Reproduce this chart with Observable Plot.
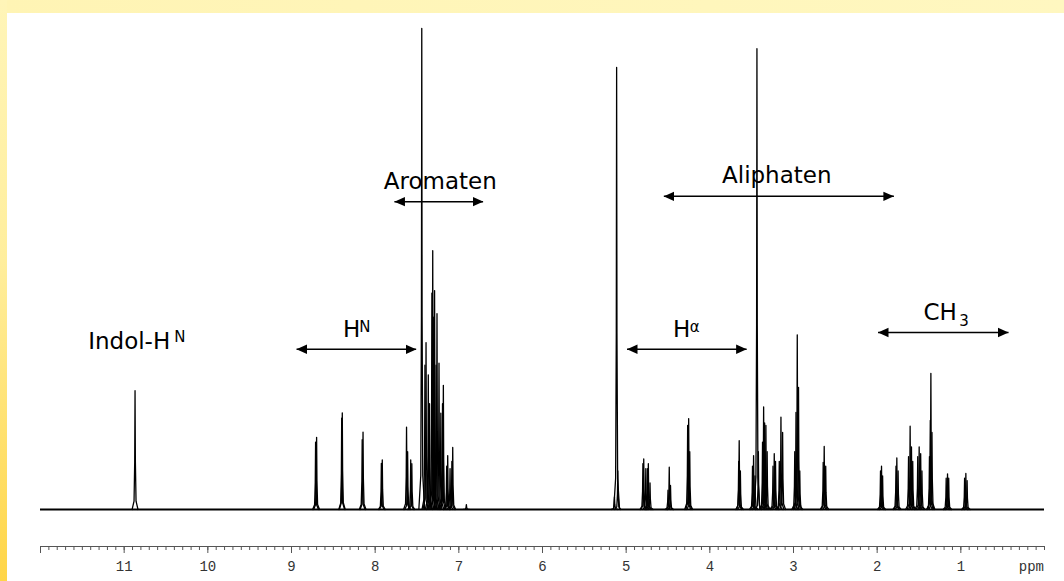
<!DOCTYPE html>
<html>
<head>
<meta charset="utf-8">
<script src="https://cdn.jsdelivr.net/npm/d3@7"></script>
<script src="https://cdn.jsdelivr.net/npm/@observablehq/plot@0.6"></script>
<style>
  html, body { margin: 0; padding: 0; }
  body { width: 1064px; height: 581px; overflow: hidden; position: relative; background: #fff; }
  #frameTop { position: absolute; left: 0; top: 0; width: 1064px; height: 13px;
    background: linear-gradient(to right, #FFF4B4, #FFF7C0); }
  #frameLeft { position: absolute; left: 0; top: 0; width: 7px; height: 581px;
    background: linear-gradient(to bottom, #FFF5B8 0%, #FFEE9C 45%, #FFD547 100%); }
  #chart { position: absolute; left: 7px; top: 13px; }
</style>
</head>
<body>
<div id="frameTop"></div>
<div id="frameLeft"></div>
<div id="chart"></div>
<script>
// ---- Data (chemical shift in ppm, relative intensity) ----
const peakPpm = [
  10.87,
  8.712, 8.700, 8.400, 8.393, 8.155, 8.145, 7.926, 7.915, 7.625, 7.612, 7.575, 7.562,
  7.443, 7.405, 7.392, 7.365, 7.350, 7.322, 7.312, 7.300, 7.290, 7.272, 7.261, 7.237,
  7.215, 7.195, 7.185, 7.145, 7.133, 7.105, 7.083, 7.073, 6.91,
  5.14, 5.114, 5.10,
  4.80, 4.79, 4.765, 4.745, 4.735, 4.715,
  4.50, 4.485, 4.47,
  4.265, 4.253, 4.24,
  3.655, 3.649, 3.635,
  3.49, 3.477, 3.46,
  3.437, 3.42,
  3.37, 3.357, 3.345, 3.33, 3.315,
  3.245, 3.23, 3.215,
  3.17, 3.15, 3.13,
  2.985, 2.97, 2.955, 2.94, 2.925,
  2.645, 2.633, 2.615,
  1.96, 1.948, 1.935,
  1.775, 1.765, 1.75,
  1.625, 1.606, 1.59, 1.575,
  1.515, 1.498, 1.48, 1.465,
  1.375, 1.365, 1.358, 1.345,
  1.175, 1.159, 1.145,
  0.955, 0.940, 0.925
];
const peakHeight = [
  24.7,
  14.0, 15.0, 19.0, 20.1, 14.5, 16.1, 9.6, 10.3, 17.1, 12.0, 10.3, 9.5,
  100, 30, 34.7, 28, 22, 45, 53.8, 40, 45.5, 30, 40.7, 30.4,
  20, 22, 25.8, 9, 11.2, 8.5, 10, 12.9, 1.0,
  2.6, 91.9, 8,
  9.5, 10.5, 8.5, 8.5, 9.5, 5.5,
  4.0, 8.8, 5.0,
  17.5, 18.9, 12,
  10, 14.3, 8,
  9, 11.2, 7,
  95.8, 12,
  14, 21.3, 18, 17.5, 12,
  9, 11.6, 10,
  10, 19.2, 16,
  12, 20.2, 36.3, 25.4, 8,
  9.8, 13.1, 9,
  8, 9.0, 7,
  9, 10.7, 8,
  11, 17.3, 13, 10,
  11, 13, 11.6, 8,
  11, 18.5, 28.3, 16,
  6.5, 7.4, 6.5,
  6.5, 7.5, 6
];

// Region arrows (from ppm, to ppm, level)
const arrowFrom  = [8.94, 7.77, 4.55, 4.99, 1.99];
const arrowTo    = [7.51, 6.71, 1.80, 3.56, 0.43];
const arrowLevel = [33.3, 64.0, 65.1, 33.3, 36.8];

// Centered headings
const headText  = ["Aromaten", "Aliphaten"];
const headPpm   = [7.222, 3.20];
const headLevel = [66.7, 67.9];
// Left-aligned labels
const labelText  = ["Indol-H", "H", "H", "CH"];
const labelPpm   = [11.43, 8.383, 4.441, 1.446];
const labelLevel = [33.4, 35.8, 35.8, 39.3];
// Superscripts / subscripts
const smallText  = ["N", "N", "α", "3"];
const smallPpm   = [10.40, 8.19, 4.24, 1.02];
const smallLevel = [34.8, 37.0, 37.0, 38.1];

// Axis ticks
const majorTicks = d3.range(1, 13);
const minorTicks = d3.range(0, 120).map(i => i / 10);
const axisLevel = -7.7;

// ---- Build tables ----
const peakShape = [[-0.035, 0], [-0.012, 0.07], [-0.004, 0.4], [0, 1], [0.004, 0.4], [0.012, 0.07], [0.035, 0]];
const trace = peakPpm.flatMap((p, i) =>
  peakShape.map(([dx, f]) => ({id: i, ppm: p + dx, v: peakHeight[i] * f})));
const arrows = arrowFrom.map((a, i) => ({x1: a, x2: arrowTo[i], y: arrowLevel[i]}));
const heads = headText.map((t, i) => ({t, x: headPpm[i], y: headLevel[i]}));
const labels = labelText.map((t, i) => ({t, x: labelPpm[i], y: labelLevel[i]}));
const smalls = smallText.map((t, i) => ({t, x: smallPpm[i], y: smallLevel[i]}));

const font = "DejaVu Sans";
const mono = "Liberation Mono";

const chart = Plot.plot({
  width: 1057,
  height: 568,
  marginLeft: 33,
  marginRight: 20,
  marginTop: 15,
  marginBottom: 35,
  style: {background: "white", overflow: "visible", maxWidth: "none"},
  x: {domain: [12, 0]},
  y: {domain: [axisLevel, 100], axis: null},
  marks: [
    Plot.ruleY([axisLevel], {stroke: "#555", strokeWidth: 1}),
    Plot.axisX({ticks: minorTicks, tickSize: 4, tickFormat: () => "", stroke: "#555", label: null}),
    Plot.axisX({ticks: majorTicks, tickSize: 7, tickPadding: 8, stroke: "#555", label: null,
      tickFormat: d => d === 12 ? "" : String(d), fontFamily: mono, fontSize: 14, fill: "#333"}),
    Plot.text(["ppm"], {x: 0.307, y: axisLevel, dy: 15, lineAnchor: "top", textAnchor: "start",
      fontFamily: mono, fontSize: 14, fill: "#333"}),
    Plot.ruleY([0], {stroke: "black", strokeWidth: 2}),
    Plot.line(trace, {x: "ppm", y: "v", z: "id", stroke: "black", strokeWidth: 1.3}),
    Plot.link(arrows, {x1: "x1", x2: "x2", y1: "y", y2: "y", stroke: "black", strokeWidth: 1.5,
      markerStart: "arrow", markerEnd: "arrow"}),
    Plot.text(heads, {x: "x", y: "y", text: "t", textAnchor: "middle", lineAnchor: "bottom",
      fontFamily: font, fontSize: 23, fill: "black"}),
    Plot.text(labels, {x: "x", y: "y", text: "t", textAnchor: "start", lineAnchor: "bottom",
      fontFamily: font, fontSize: 23, fill: "black"}),
    Plot.text(smalls, {x: "x", y: "y", text: "t", textAnchor: "start", lineAnchor: "bottom",
      fontFamily: font, fontSize: 15, fill: "black"})
  ]
});

// filled arrowheads
chart.querySelectorAll("marker").forEach(m => {
  m.setAttribute("viewBox", "-10 -5 10 10");
  m.setAttribute("markerWidth", 7);
  m.setAttribute("markerHeight", 7);
  m.setAttribute("orient", "auto-start-reverse");
  m.setAttribute("fill", "black");
  m.setAttribute("stroke", "none");
  m.innerHTML = '<path d="M-10,-4.5L0,0L-10,4.5Z"/>';
});
document.getElementById("chart").appendChild(chart);
</script>
</body>
</html>
